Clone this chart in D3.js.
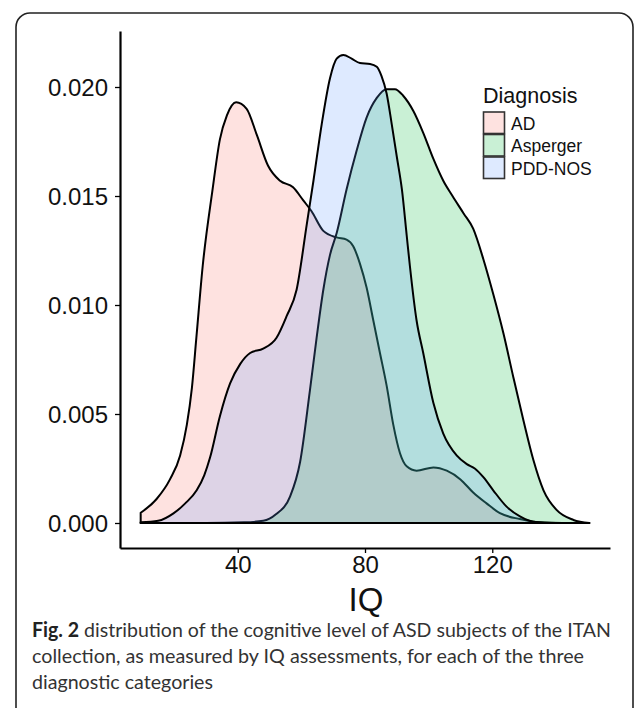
<!DOCTYPE html>
<html>
<head>
<meta charset="utf-8">
<script src="https://cdn.jsdelivr.net/npm/d3@7"></script>
<style>
  html, body { margin: 0; padding: 0; background: #fff; }
  svg { display: block; }
</style>
</head>
<body>
<div id="viz"></div>
<script>
// IQ density estimates
const groups = ["AD", "Asperger", "PDD-NOS"];
const colors = ["#F8766D", "#00BA38", "#619CFF"];

const iqAD = [9.5, 14.5, 18.7, 21.9, 24, 25.6, 27, 29, 32, 34.4, 36.6, 39.5, 42.8, 46, 49.5, 53.3, 57.4, 60.6, 63.2, 66.9, 71.1, 74.2, 76.3, 78.4, 80.5, 82.6, 84.7, 86.8, 88.9, 91, 93.1, 96.2, 101.5, 105.7, 110, 114, 118.2, 122.4, 128.7, 135, 142, 150.5];
const densAD = [0.00047, 0.0011, 0.002, 0.0031, 0.0045, 0.0062, 0.0085, 0.0118, 0.0152, 0.0176, 0.0187, 0.0193, 0.0190, 0.0178, 0.0164, 0.0157, 0.0154, 0.0148, 0.0143, 0.0134, 0.0131, 0.0130, 0.0127, 0.0119, 0.0108, 0.0093, 0.0078, 0.0063, 0.0045, 0.0032, 0.0026, 0.0024, 0.00255, 0.0024, 0.0020, 0.0014, 0.0009, 0.00045, 0.00018, 0.00003, 0, 0];

const iqAsp = [9.5, 30, 42, 48, 52, 56.4, 59.6, 62.7, 64.8, 66.9, 69, 71.1, 74.2, 77.4, 80.5, 83.7, 86.8, 89.4, 92, 95.2, 98.3, 101.5, 104.6, 107.5, 111, 114, 117.2, 120.3, 123.5, 126.6, 129.8, 132.9, 136.1, 140.2, 145.5, 150.5];
const densAsp = [0, 0, 0.00003, 0.0001, 0.0004, 0.0012, 0.0028, 0.0061, 0.0085, 0.0107, 0.0123, 0.0133, 0.0153, 0.0171, 0.0186, 0.0195, 0.0199, 0.0199, 0.0196, 0.0189, 0.0179, 0.0167, 0.0157, 0.0150, 0.0142, 0.0135, 0.0121, 0.0105, 0.0087, 0.0067, 0.0047, 0.0029, 0.0015, 0.0006, 0.00014, 0];

const iqPDD = [9.5, 15, 19.8, 23.5, 27.1, 29.5, 31.3, 34.4, 37.6, 40.8, 43.9, 48, 52.2, 55.4, 58.5, 61.7, 63.8, 66.4, 69, 71.1, 73.2, 75.8, 78.4, 81.6, 83.7, 85.2, 86.8, 88.4, 90, 91.6, 93.1, 94.1, 96.2, 98.3, 101.5, 104.6, 108.8, 112, 114.5, 117.2, 120.3, 124.5, 128.7, 132.8, 140, 150.5];
const densPDD = [0.00003, 0.0001, 0.00044, 0.0009, 0.0015, 0.0022, 0.003, 0.0049, 0.0064, 0.0073, 0.0078, 0.0080, 0.0085, 0.0095, 0.0107, 0.0137, 0.0157, 0.0183, 0.0204, 0.0213, 0.02147, 0.0213, 0.0211, 0.02106, 0.02093, 0.0205, 0.0197, 0.0183, 0.0168, 0.0153, 0.0132, 0.0118, 0.0093, 0.0078, 0.0055, 0.0041, 0.0031, 0.0027, 0.0025, 0.0021, 0.0015, 0.00075, 0.0003, 0.00006, 0, 0];

const xTicks = [40, 80, 120];
const yTicks = [0, 0.005, 0.010, 0.015, 0.020];

const captionLines = [
  ["Fig. 2", " distribution of the cognitive level of ASD subjects of the ITAN"],
  ["", "collection, as measured by IQ assessments, for each of the three"],
  ["", "diagnostic categories"]
];

const series = [
  { name: groups[0], color: colors[0], pts: iqAD.map((v, i) => [v, densAD[i]]) },
  { name: groups[1], color: colors[1], pts: iqAsp.map((v, i) => [v, densAsp[i]]) },
  { name: groups[2], color: colors[2], pts: iqPDD.map((v, i) => [v, densPDD[i]]) }
];

const W = 636, H = 708;
const svg = d3.select("#viz").append("svg")
  .attr("width", W)
  .attr("height", H)
  .style("font-family", "'Liberation Sans', Arial, sans-serif");

// figure frame (bottom runs off the page)
svg.append("rect")
  .attr("x", 16).attr("y", 13)
  .attr("width", 617).attr("height", 760)
  .attr("rx", 14)
  .attr("fill", "none")
  .attr("stroke", "#222")
  .attr("stroke-width", 1.6);

const x = d3.scaleLinear().domain([3, 157]).range([120, 610]);
const y = d3.scaleLinear().domain([-0.001147, 0.022569]).range([548, 31]);

// density polygons, drawn in group order like ggplot
const area = d3.area()
  .x(d => x(d[0]))
  .y0(y(0))
  .y1(d => y(d[1]))
  .curve(d3.curveMonotoneX);

svg.append("g")
  .selectAll("path")
  .data(series)
  .join("path")
  .attr("d", d => area(d.pts) + "Z")
  .attr("fill", d => d.color)
  .attr("fill-opacity", 0.21)
  .attr("stroke", "#000")
  .attr("stroke-width", 2)
  .attr("stroke-linejoin", "round");

// axes
const xAxis = svg.append("g")
  .attr("transform", `translate(0,548)`)
  .call(d3.axisBottom(x).tickValues(xTicks).tickSize(5).tickPadding(3).tickSizeOuter(0));
const yAxis = svg.append("g")
  .attr("transform", `translate(120,0)`)
  .call(d3.axisLeft(y).tickValues(yTicks).tickFormat(d3.format(".3f")).tickSize(5).tickPadding(7).tickSizeOuter(0));

[xAxis, yAxis].forEach(g => {
  g.select(".domain").attr("stroke", "#000").attr("stroke-width", 2.2);
  g.selectAll(".tick line").attr("stroke", "#000").attr("stroke-width", 1.3);
  g.selectAll(".tick text")
    .attr("fill", "#111")
    .style("font-size", "24px")
    .style("font-family", "'Liberation Sans', Arial, sans-serif");
});
yAxis.selectAll(".tick text").attr("dy", "0.36em");

// axis title
svg.append("text")
  .attr("x", 366).attr("y", 611)
  .attr("text-anchor", "middle")
  .style("font-size", "33px")
  .attr("fill", "#111")
  .text("IQ");

// legend
const legend = svg.append("g").attr("transform", "translate(483,0)");
legend.append("text")
  .attr("x", 0).attr("y", 103)
  .style("font-size", "21.5px")
  .attr("fill", "#111")
  .text("Diagnosis");
const keys = legend.selectAll("g.key")
  .data(series)
  .join("g")
  .attr("class", "key")
  .attr("transform", (d, i) => `translate(0,${112 + i * 22.5})`);
keys.append("rect")
  .attr("x", 0.5).attr("y", 0)
  .attr("width", 21).attr("height", 21.5)
  .attr("fill", "#fff");
keys.append("rect")
  .attr("x", 0.5).attr("y", 0)
  .attr("width", 21).attr("height", 21.5)
  .attr("fill", d => d.color)
  .attr("fill-opacity", 0.21)
  .attr("stroke", "#333")
  .attr("stroke-width", 1.6);
keys.append("text")
  .attr("x", 28).attr("y", 17.5)
  .style("font-size", "17.5px")
  .attr("fill", "#111")
  .text(d => d.name);

// caption
const cap = svg.append("g")
  .style("font-family", "Lato, 'Open Sans', sans-serif")
  .style("font-size", "20px")
  .attr("fill", "#333");
const capWidths = [579, 552, 181];
captionLines.forEach((ln, i) => {
  const t = cap.append("text")
    .attr("x", 32).attr("y", 637 + i * 26)
    .attr("textLength", capWidths[i])
    .attr("lengthAdjust", "spacingAndGlyphs");
  if (ln[0]) t.append("tspan").style("font-weight", "bold").attr("fill", "#222").text(ln[0]);
  t.append("tspan").text(ln[1]);
});
</script>
</body>
</html>
